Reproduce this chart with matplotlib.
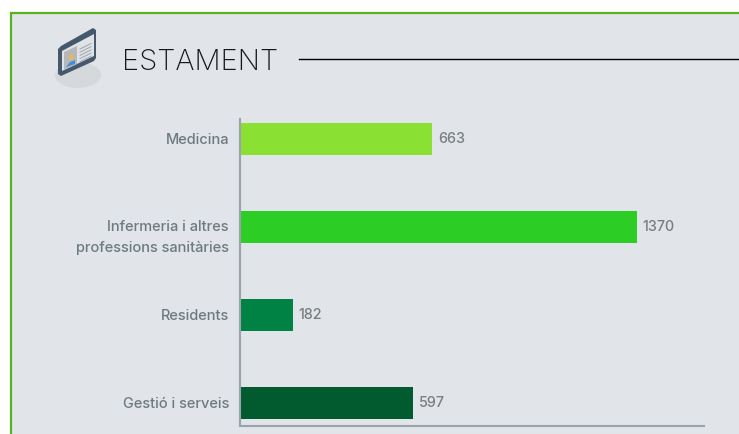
import matplotlib
matplotlib.use('Agg')
import matplotlib.pyplot as plt
from matplotlib.patches import Ellipse, Polygon, Rectangle
from matplotlib.transforms import ScaledTranslation

categories = ['Medicina', 'Infermeria i altres\nprofessions sanitàries', 'Residents', 'Gestió i serveis']
values = [663, 1370, 182, 597]
colors = ['#8ae033', '#2ccd25', '#008244', '#025b2e']
title = 'ESTAMENT'

plt.rcParams['font.family'] = ['Inter', 'DejaVu Sans']

W, H = 739, 435
figure = plt.figure(figsize=(W / 100, H / 100), dpi=100, facecolor='white')

# background layer in pixel coordinates
back = figure.add_axes([0, 0, 1, 1])
back.set_xlim(0, W)
back.set_ylim(H, 0)
back.axis('off')
back.add_patch(Rectangle((11, 13.5), W + 20, H + 20, facecolor='#e1e4e8', edgecolor='#5ab31e', linewidth=1.6))

# icon
back.add_patch(Ellipse((78, 76), 46, 26, facecolor='#d5d9dc', edgecolor='none'))
back.add_patch(Polygon([(58, 50), (61, 47), (93, 29), (96, 31), (96, 59), (94, 62), (61, 77), (58, 75)],
                       facecolor='#46586c', edgecolor='none'))
back.add_patch(Polygon([(62, 52), (94, 35), (94, 57), (62, 72)], facecolor='#dfe3e6', edgecolor='none'))
back.add_patch(Polygon([(64, 53), (77, 47), (77, 65), (64, 71)], facecolor='#b5b8bb', edgecolor='none'))
back.add_patch(Ellipse((71, 58), 4, 6, facecolor='#f0b35a', edgecolor='none'))
back.add_patch(Polygon([(66, 68), (70, 63), (75, 61), (75, 65)], facecolor='#3d8fd8', edgecolor='none'))
for i in range(5):
    back.plot([80, 91], [50 + i * 3.2, 44.5 + i * 3.2], color='#9aa5ad', linewidth=0.7)

back.text(122, 62, title, fontsize=21, fontweight='light', color='#14181c', va='center', ha='left')
back.plot([299, W], [59.5, 59.5], color='black', linewidth=1.0)

# bars
axes = figure.add_axes([240 / W, 1 - 426.5 / H, 464 / W, 306.5 / H])
axes.patch.set_alpha(0)
axes.barh(range(len(values)), values, height=0.364, color=colors)
axes.set_xlim(0, 1601)
axes.set_ylim(3.256, -0.227)
axes.set_yticks(range(len(categories)))
axes.set_yticklabels(categories, fontsize=10.5, fontweight='medium', color='#6d7b80', linespacing=1.6)
axes.set_xticks([])
axes.tick_params(axis='y', length=0, pad=8)

# two line label sits lower than its bar in the original
for label, shift in zip(axes.get_yticklabels(), [1.5, -4.5, 1.5, 1.5]):
    label.set_transform(label.get_transform() + ScaledTranslation(0, shift / 100, figure.dpi_scale_trans))

for side in ['top', 'right']:
    axes.spines[side].set_visible(False)
for side in ['left', 'bottom']:
    axes.spines[side].set_color('#9aa3a8')
    axes.spines[side].set_linewidth(1.5)

for i, value in enumerate(values):
    axes.text(value + 20, i - 0.012, str(value), fontsize=10.3, fontweight='medium', color='#777d80', va='center')

figure.savefig('out.png', dpi=100)
